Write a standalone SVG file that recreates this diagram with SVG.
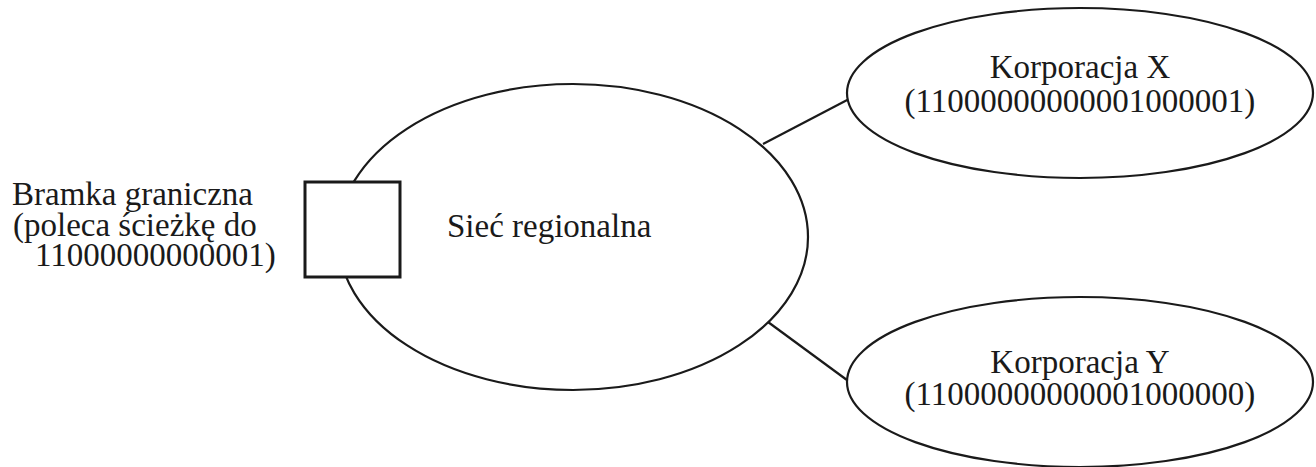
<svg xmlns="http://www.w3.org/2000/svg" width="1316" height="467" viewBox="0 0 1316 467">
  <style>
    .shape { fill: #ffffff; stroke: #1a1a1a; stroke-width: 2.2; }
    .box { fill: #ffffff; stroke: #1a1a1a; stroke-width: 3; }
    .link { stroke: #1a1a1a; stroke-width: 2.2; fill: none; }
    text { font-family: "Liberation Serif", "Times New Roman", serif; font-size: 33px; fill: #1a1a1a; }
    .mid { text-anchor: middle; }
  </style>
  <rect width="1316" height="467" fill="#ffffff"/>

  <!-- links between the regional network and the corporations -->
  <g id="connectors">
    <line class="link" x1="763" y1="144" x2="851" y2="98"/>
    <line class="link" x1="768" y1="322" x2="851" y2="383"/>
  </g>

  <g id="siec-regionalna">
    <ellipse class="shape" cx="573" cy="237" rx="235" ry="153"/>
    <text x="447" y="237">Sieć regionalna</text>
  </g>

  <g id="bramka">
    <rect class="box" x="305" y="182" width="95" height="95"/>
    <text x="12" y="205">Bramka graniczna</text>
    <text x="13" y="236">(poleca ścieżkę do</text>
    <text x="35" y="266">11000000000001)</text>
  </g>

  <g id="korporacja-x">
    <ellipse class="shape" cx="1080" cy="93" rx="233" ry="85"/>
    <text class="mid" x="1080" y="78">Korporacja X</text>
    <text class="mid" x="1080" y="112">(11000000000001000001)</text>
  </g>

  <g id="korporacja-y">
    <ellipse class="shape" cx="1080" cy="382" rx="233" ry="85"/>
    <text class="mid" x="1080" y="373">Korporacja Y</text>
    <text class="mid" x="1080" y="405">(11000000000001000000)</text>
  </g>
</svg>
